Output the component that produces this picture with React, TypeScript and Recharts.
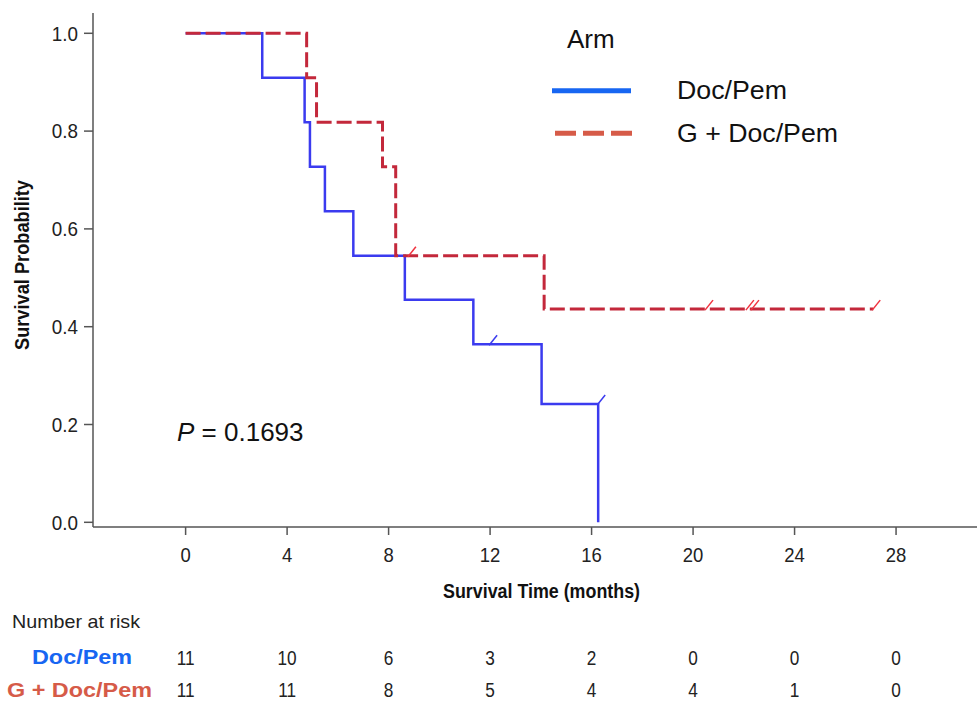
import { ComposedChart, Line, Scatter, XAxis, YAxis } from "recharts";

// arms
const armNames = ["Doc/Pem", "G + Doc/Pem"];
const lineColors = ["#3b3bef", "#c3283b"];
const censorColors = ["#3b3bef", "#f0323f"];
const legendColors = ["#1766f2", "#d65b48"];

// Kaplan-Meier steps
const docTimes = [0, 3.02, 4.69, 4.9, 5.49, 6.61, 8.64, 11.34, 14.03, 16.26];
const docSurv = [1, 0.909, 0.818, 0.727, 0.636, 0.545, 0.455, 0.364, 0.242, 0];
const gTimes = [0, 4.77, 5.16, 7.76, 8.28, 14.13, 27.1];
const gSurv = [1, 0.909, 0.818, 0.727, 0.545, 0.436, 0.436];

// censor ticks
const docCensorTimes = [12.0, 16.26];
const docCensorSurv = [0.364, 0.242];
const gCensorTimes = [8.8, 20.51, 22.12, 22.32, 27.1];
const gCensorSurv = [0.545, 0.436, 0.436, 0.436, 0.436];

// axis ticks / number at risk
const timeTicks = [0, 4, 8, 12, 16, 20, 24, 28];
const probTicks = [0, 0.2, 0.4, 0.6, 0.8, 1.0];
const docRisk = [11, 10, 6, 3, 2, 0, 0, 0];
const gRisk = [11, 11, 8, 5, 4, 4, 1, 0];

const pValue = "0.1693";

const font = '"Liberation Sans", Arial, Helvetica, sans-serif';
const axisColor = "#555";
const xDomain = [-3.65, 31.19];

const toPoints = (ts: number[], ss: number[]) => ts.map((t, i) => ({ t, s: ss[i] }));
const riskRows = timeTicks.map((t, i) => ({ t, doc: docRisk[i], g: gRisk[i] }));

const YTick = ({ x, y, payload }: any) => (
  <g transform={`translate(${x},${y})`}>
    <text transform="scale(0.92,1)" textAnchor="end" dy="0.36em" fontSize={20.5} fill="#222" fontFamily={font}>
      {Number(payload.value).toFixed(1)}
    </text>
  </g>
);

const XTick = ({ x, y, payload }: any) => (
  <g transform={`translate(${x},${y + 23})`}>
    <text transform="scale(0.88,1)" textAnchor="middle" fontSize={21} fill="#222" fontFamily={font}>
      {payload.value}
    </text>
  </g>
);

const riskTick = (counts: number[]) => ({ x, y, payload }: any) => (
  <g transform={`translate(${x},${y + 24.5})`}>
    <text transform="scale(0.84,1)" textAnchor="middle" fontSize={20.5} fill="#222" fontFamily={font}>
      {counts[timeTicks.indexOf(payload.value)]}
    </text>
  </g>
);

const censorShape = (color: string) => (props: any) => (
  <line
    x1={props.cx - 1}
    y1={props.cy + 1}
    x2={props.cx + 7}
    y2={props.cy - 9}
    stroke={color}
    strokeWidth={1.5}
  />
);

export default function App() {
  return (
    <div style={{ position: "absolute", left: 0, top: 0, width: 979, height: 702, background: "#fff" }}>
      <ComposedChart width={979} height={702} data={riskRows} margin={{ top: 13, right: 2, bottom: 0, left: 0 }}>
        <XAxis
          dataKey="t"
          type="number"
          domain={xDomain}
          allowDataOverflow
          ticks={timeTicks}
          interval={0}
          height={113}
          stroke={axisColor}
          strokeWidth={1.5}
          tickSize={8}
          tickMargin={4}
          tick={<XTick />}
        />
        <XAxis
          xAxisId="r1"
          dataKey="t"
          type="number"
          domain={xDomain}
          allowDataOverflow
          ticks={timeTicks}
          interval={0}
          height={32}
          axisLine={false}
          tickLine={false}
          tickSize={0}
          tickMargin={0}
          tick={riskTick(docRisk)}
        />
        <XAxis
          xAxisId="r2"
          dataKey="t"
          type="number"
          domain={xDomain}
          allowDataOverflow
          ticks={timeTicks}
          interval={0}
          height={30}
          axisLine={false}
          tickLine={false}
          tickSize={0}
          tickMargin={0}
          tick={riskTick(gRisk)}
        />
        <YAxis
          type="number"
          domain={[-0.0096, 1.0415]}
          allowDataOverflow
          ticks={probTicks}
          interval={0}
          width={93}
          stroke={axisColor}
          strokeWidth={1.5}
          tickSize={9}
          tickMargin={6}
          tick={<YTick />}
        />
        <Line
          data={toPoints(docTimes, docSurv)}
          dataKey="s"
          type="stepAfter"
          stroke={lineColors[0]}
          strokeWidth={2.5}
          dot={false}
          activeDot={false}
          isAnimationActive={false}
        />
        <Line
          data={toPoints(gTimes, gSurv)}
          dataKey="s"
          type="stepAfter"
          stroke={lineColors[1]}
          strokeWidth={3}
          strokeDasharray="15 5"
          dot={false}
          activeDot={false}
          isAnimationActive={false}
        />
        <Scatter
          data={toPoints(docCensorTimes, docCensorSurv)}
          dataKey="s"
          shape={censorShape(censorColors[0])}
          isAnimationActive={false}
        />
        <Scatter
          data={toPoints(gCensorTimes, gCensorSurv)}
          dataKey="s"
          shape={censorShape(censorColors[1])}
          isAnimationActive={false}
        />
      </ComposedChart>

      <svg
        width={979}
        height={702}
        style={{ position: "absolute", left: 0, top: 0, pointerEvents: "none" }}
        fontFamily={font}
      >
        {/* axis titles */}
        <text x={443} y={598} fontSize={20} fontWeight="bold" fill="#111" textLength={197} lengthAdjust="spacingAndGlyphs">
          Survival Time (months)
        </text>
        <text
          transform="translate(29,265) rotate(-90)"
          textAnchor="middle"
          fontSize={20}
          fontWeight="bold"
          fill="#111"
          textLength={170}
          lengthAdjust="spacingAndGlyphs"
        >
          Survival Probability
        </text>

        {/* p value */}
        <text x={177} y={441} fontSize={26} fill="#111">
          <tspan fontStyle="italic">P</tspan> = {pValue}
        </text>

        {/* legend */}
        <text x={567} y={47.5} fontSize={26} fill="#111">Arm</text>
        <line x1={552} y1={90.7} x2={631} y2={90.7} stroke={legendColors[0]} strokeWidth={5} />
        <text x={677} y={99.3} fontSize={26} fill="#111" textLength={110} lengthAdjust="spacingAndGlyphs">
          {armNames[0]}
        </text>
        <line
          x1={555}
          y1={133.3}
          x2={632}
          y2={133.3}
          stroke={legendColors[1]}
          strokeWidth={5}
          strokeDasharray="21 7"
        />
        <text x={677} y={141.7} fontSize={26} fill="#111" textLength={161} lengthAdjust="spacingAndGlyphs">
          {armNames[1]}
        </text>

        {/* number at risk labels */}
        <text x={12} y={628} fontSize={18.5} fill="#222" textLength={128} lengthAdjust="spacingAndGlyphs">
          Number at risk
        </text>
        <text x={32} y={664} fontSize={21} fontWeight="bold" fill={legendColors[0]} textLength={100} lengthAdjust="spacingAndGlyphs">
          {armNames[0]}
        </text>
        <text x={7} y={697} fontSize={21} fontWeight="bold" fill={legendColors[1]} textLength={145} lengthAdjust="spacingAndGlyphs">
          {armNames[1]}
        </text>
      </svg>
    </div>
  );
}
